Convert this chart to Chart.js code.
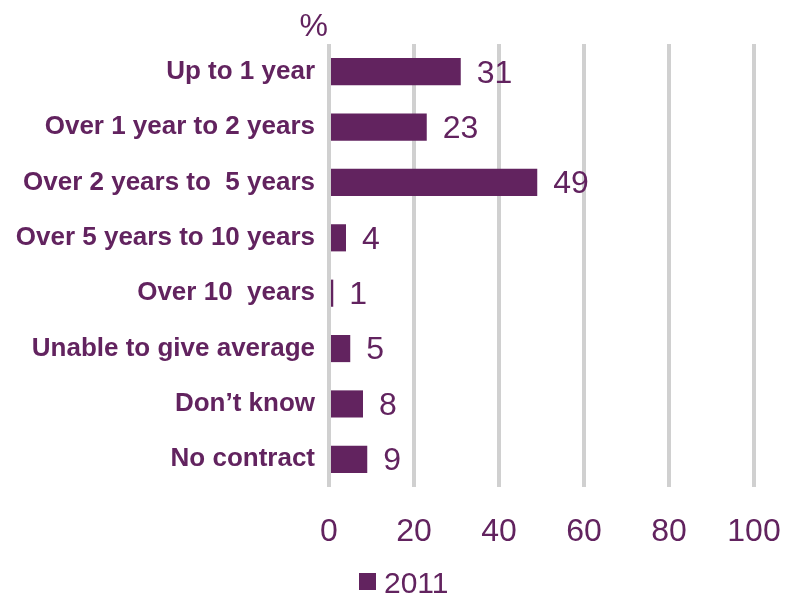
<!DOCTYPE html>
<html>
<head>
<meta charset="utf-8">
<script src="https://cdn.jsdelivr.net/npm/chart.js@4/dist/chart.umd.min.js"></script>
<style>
  html, body { margin: 0; padding: 0; background: #ffffff; }
  #wrap { width: 785px; height: 595px; position: relative; }
</style>
</head>
<body>
<div id="wrap"><canvas id="chart" width="785" height="595"></canvas></div>
<script>
// Average contract length, share of respondents (%)
const categories = [
  'Up to 1 year',
  'Over 1 year to 2 years',
  'Over 2 years to  5 years',
  'Over 5 years to 10 years',
  'Over 10  years',
  'Unable to give average',
  'Don\u2019t know',
  'No contract'
];
const values2011 = [31, 23, 49, 4, 1, 5, 8, 9];
const seriesName = '2011';
const xTicks = [0, 20, 40, 60, 80, 100];
const unitLabel = '%';

const PURPLE = '#62235f';
const GRID = '#d0d0d0';
const FONT = '"Liberation Sans", Arial, Helvetica, sans-serif';

// Writes each bar's value just past its end, the unit mark above the axis,
// and a single-entry key under the axis labels
const annotations = {
  id: 'annotations',
  afterDatasetsDraw(chart) {
    const ctx = chart.ctx;
    const meta = chart.getDatasetMeta(0);
    ctx.save();
    ctx.fillStyle = PURPLE;
    ctx.font = '32px ' + FONT;
    ctx.textAlign = 'left';
    ctx.textBaseline = 'middle';
    meta.data.forEach((bar, i) => {
      ctx.fillText(String(values2011[i]), bar.x + 16, bar.y + 2);
    });
    ctx.textAlign = 'right';
    ctx.textBaseline = 'alphabetic';
    ctx.fillText(unitLabel, chart.chartArea.left - 1, 36);

    // key
    const ds = chart.data.datasets[0];
    const keyX = chart.chartArea.left + 30;
    const keyY = 573;
    ctx.fillStyle = ds.backgroundColor;
    ctx.fillRect(keyX, keyY, 17, 17);
    ctx.fillStyle = PURPLE;
    ctx.font = '30px ' + FONT;
    ctx.textAlign = 'left';
    ctx.fillText(ds.label, keyX + 25, keyY + 20);
    ctx.restore();
  }
};

new Chart(document.getElementById('chart'), {
  type: 'bar',
  data: {
    labels: categories,
    datasets: [{
      label: seriesName,
      data: values2011,
      backgroundColor: PURPLE,
      borderWidth: 0,
      barPercentage: 0.49,
      categoryPercentage: 1.0
    }]
  },
  options: {
    indexAxis: 'y',
    responsive: false,
    animation: false,
    devicePixelRatio: 1,
    layout: { padding: { top: 44, right: 31, left: 0, bottom: 46 } },
    scales: {
      x: {
        min: 0,
        max: 100,
        afterBuildTicks(scale) { scale.ticks = xTicks.map(v => ({ value: v })); },
        afterFit(scale) {
          scale.height = 62;
          scale.paddingLeft = 0;
          scale.paddingRight = 0;
        },
        grid: { color: GRID, lineWidth: 4, drawTicks: false },
        border: { display: false },
        ticks: {
          color: PURPLE,
          padding: 26,
          maxRotation: 0,
          font: { family: FONT, size: 32 }
        }
      },
      y: {
        afterFit(scale) { scale.width = 329; },
        grid: { display: false, drawTicks: false },
        border: { display: false },
        ticks: {
          color: PURPLE,
          padding: 14,
          autoSkip: false,
          font: { family: FONT, size: 26, weight: 'bold' }
        }
      }
    },
    plugins: {
      legend: { display: false },
      tooltip: { enabled: false }
    }
  },
  plugins: [annotations]
});
</script>
</body>
</html>
